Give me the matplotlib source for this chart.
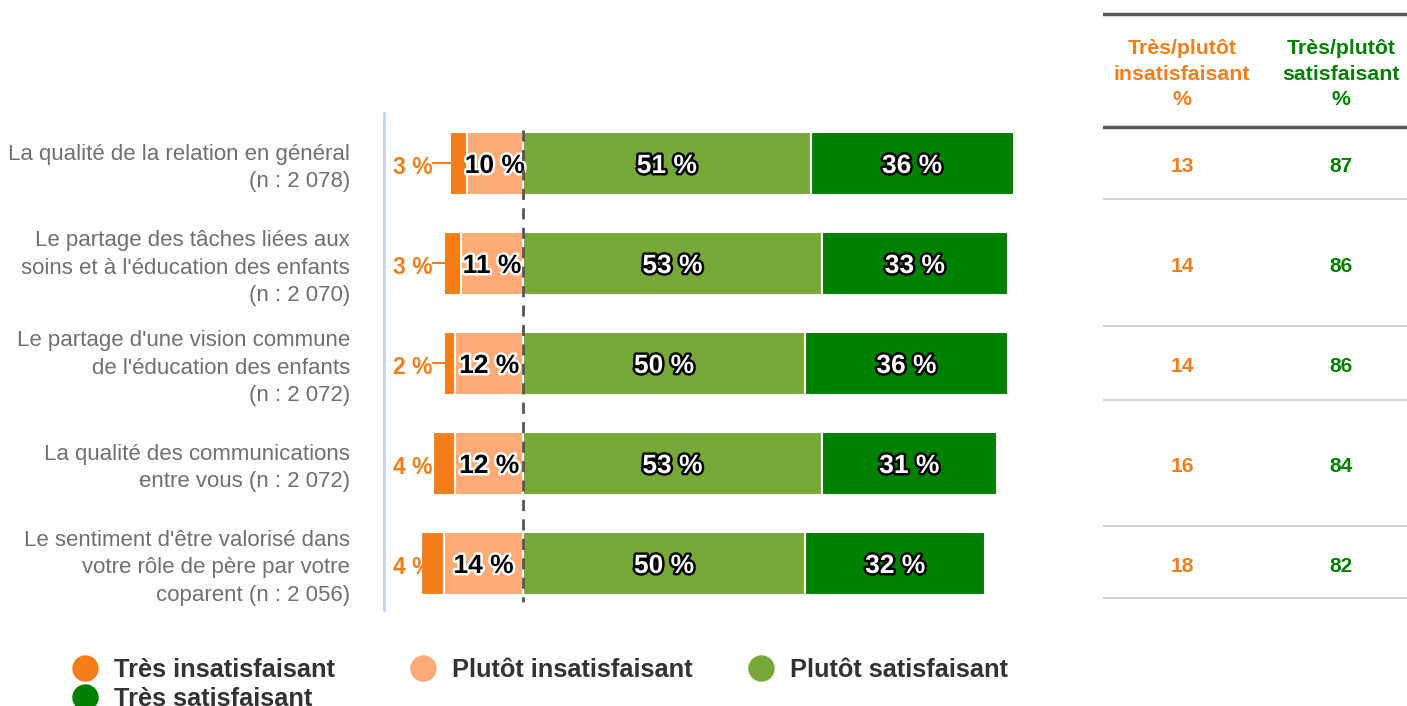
import numpy as np
import matplotlib
matplotlib.use("Agg")
import matplotlib.pyplot as plt
import matplotlib.patheffects as pe
from matplotlib.lines import Line2D

plt.rcParams['font.family'] = ['Liberation Sans', 'DejaVu Sans']

# Data
categories = [
    "La qualité de la relation en général\n(n : 2 078)",
    "Le partage des tâches liées aux\nsoins et à l'éducation des enfants\n(n : 2 070)",
    "Le partage d'une vision commune\nde l'éducation des enfants\n(n : 2 072)",
    "La qualité des communications\nentre vous (n : 2 072)",
    "Le sentiment d'être valorisé dans\nvotre rôle de père par votre\ncoparent (n : 2 056)",
]
tres_insat = [3, 3, 2, 4, 4]
plutot_insat = [10, 11, 12, 12, 14]
plutot_sat = [51, 53, 50, 53, 50]
tres_sat = [36, 33, 36, 31, 32]
total_insat = [13, 14, 14, 16, 18]
total_sat = [87, 86, 86, 84, 82]

series_names = ["Très insatisfaisant", "Plutôt insatisfaisant",
                "Plutôt satisfaisant", "Très satisfaisant"]
header_insat = "Très/plutôt\ninsatisfaisant\n%"
header_sat = "Très/plutôt\nsatisfaisant\n%"

# Colours
C_TI = '#f47f1a'
C_PI = '#fdab76'
C_PS = '#78a838'
C_TS = '#008000'
C_LABEL = '#707070'

W, H = 1407, 706
fig = plt.figure(figsize=(W / 100, H / 100), dpi=100)

# bar axes, placed in pixel terms
x0_px, x1_px = 384, 1090
y_top_px, y_bot_px = 113, 610
row0_px = 163
ax = fig.add_axes([x0_px / W, 1 - y_bot_px / H, (x1_px - x0_px) / W, (y_bot_px - y_top_px) / H])
px_per_pct = 5.64
zero_px = 523
ax.set_xlim(-(zero_px - x0_px) / px_per_pct, (x1_px - zero_px) / px_per_pct)
ax.set_ylim((y_bot_px - row0_px) / 100, (y_top_px - row0_px) / 100)

y = np.arange(len(categories))
ti = np.array(tres_insat)
pi = np.array(plutot_insat)
ps = np.array(plutot_sat)
ts = np.array(tres_sat)

bh = 0.63
kw = dict(height=bh, edgecolor='white', linewidth=1.5)
ax.barh(y, -pi, left=0, color=C_PI, **kw)
ax.barh(y, -ti, left=-pi, color=C_TI, **kw)
ax.barh(y, ps, left=0, color=C_PS, **kw)
ax.barh(y, ts, left=ps, color=C_TS, **kw)

white_txt = [pe.withStroke(linewidth=3.5, foreground='black')]
black_txt = [pe.withStroke(linewidth=3.5, foreground='white')]
dy = 0.03
for i in range(len(y)):
    ax.text(-pi[i] / 2, y[i] + dy, f"{pi[i]} %", ha='center', va='center',
            fontsize=19, fontweight='bold', color='black', path_effects=black_txt)
    ax.text(ps[i] / 2, y[i] + dy, f"{ps[i]} %", ha='center', va='center',
            fontsize=19, fontweight='bold', color='white', path_effects=white_txt)
    ax.text(ps[i] + ts[i] / 2, y[i] + dy, f"{ts[i]} %", ha='center', va='center',
            fontsize=19, fontweight='bold', color='white', path_effects=white_txt)
    # outside label with leader line
    bar_left = -(pi[i] + ti[i])
    lab_x = -16.0
    ax.text(lab_x, y[i] + 0.04, f"{ti[i]} %", ha='right', va='center',
            fontsize=16.5, fontweight='bold', color=C_TI)
    if bar_left > lab_x:
        ax.plot([lab_x + 0.1, bar_left], [y[i], y[i]], color=C_TI, lw=1.5)

# dashed zero line
ax.plot([0, 0], [-0.33, 4.39], color='#555555', lw=2, ls=(0, (4, 3)), zorder=5)

# category labels
for i, cat in enumerate(categories):
    ax.text(-(zero_px - 350) / px_per_pct, y[i] + 0.05, cat, ha='right', va='center',
            fontsize=16, color=C_LABEL, linespacing=1.42)

for s in ['top', 'right', 'bottom']:
    ax.spines[s].set_visible(False)
ax.spines['left'].set_color('#c8d5ec')
ax.spines['left'].set_linewidth(2)
ax.set_xticks([])
ax.set_yticks([])
ax.patch.set_alpha(0)

# table axes
tx0 = 1103
tab = fig.add_axes([tx0 / W, 0, (W - tx0) / W, 1])
tab.set_xlim(tx0, W)
tab.set_ylim((H - row0_px) / 100, -row0_px / 100)
tab.axis('off')
col_insat, col_sat = 1182, 1341
tab.plot([tx0, W], [-1.49, -1.49], color='#5a5a5a', lw=2.5)
tab.plot([tx0, W], [-0.36, -0.36], color='#5a5a5a', lw=2.5)
tab.text(col_insat, -0.89, header_insat, ha='center', va='center', fontsize=15.3,
         fontweight='bold', color=C_TI, linespacing=1.45)
tab.text(col_sat, -0.89, header_sat, ha='center', va='center', fontsize=15.3,
         fontweight='bold', color=C_TS, linespacing=1.45)
sep_offsets = [0.36, 0.63, 0.37, 0.63, 0.35]
for i in range(len(y)):
    tab.text(col_insat, y[i] + 0.03, str(total_insat[i]), ha='center', va='center',
             fontsize=15, fontweight='bold', color=C_TI)
    tab.text(col_sat, y[i] + 0.03, str(total_sat[i]), ha='center', va='center',
             fontsize=15, fontweight='bold', color=C_TS)
    yy = y[i] + sep_offsets[i]
    tab.plot([tx0, W], [yy, yy], color='#cccccc', lw=1.2)

# legend: fixed-width columns
colors = [C_TI, C_PI, C_PS, C_TS]
handles = [Line2D([], [], marker='o', ls='none', markersize=19, color=c, markeredgewidth=0)
           for c in colors]
leg_cols = [[0, 3], [1], [2]]
leg_x = [70, 408, 746]
for col, lx in zip(leg_cols, leg_x):
    lg = fig.legend([handles[k] for k in col], [series_names[k] for k in col],
                    loc='upper left', bbox_to_anchor=(lx / W, 1 - 658 / H), ncol=1,
                    frameon=False, prop={'size': 18.3, 'weight': 'bold'},
                    labelcolor='#333333', handletextpad=0.55, labelspacing=0.18,
                    handlelength=1.2, borderpad=0, borderaxespad=0)

fig.savefig('out.png', dpi=100)
